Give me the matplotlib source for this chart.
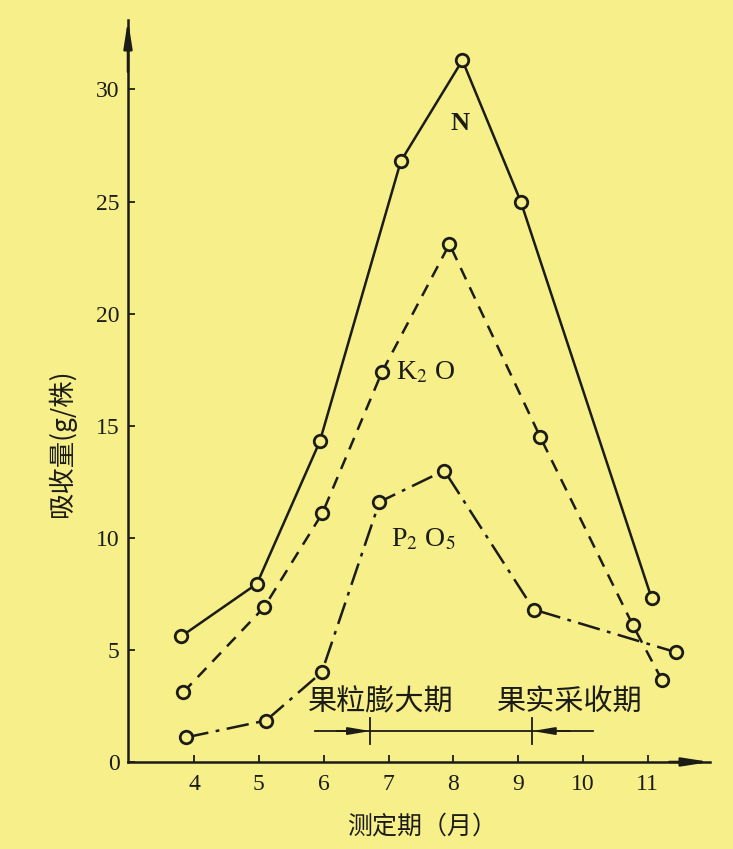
import matplotlib.pyplot as plt

plt.rcParams['font.family'] = ['Liberation Serif', 'Noto Sans CJK SC', 'DejaVu Sans']
plt.rcParams['mathtext.fontset'] = 'stix'

# months at which each nutrient was measured, and uptake (g per plant)
n_month = [3.8, 4.97, 5.94, 7.19, 8.14, 9.04, 11.06]
n_uptake = [5.6, 7.95, 14.3, 26.8, 31.3, 25.0, 7.3]

k_month = [3.83, 5.08, 5.98, 6.9, 7.94, 9.34, 10.77, 11.22]
k_uptake = [3.1, 6.9, 11.1, 17.4, 23.1, 14.5, 6.1, 3.65]

p_month = [3.88, 5.11, 5.97, 6.86, 7.86, 9.24, 11.43]
p_uptake = [1.1, 1.85, 4.0, 11.6, 13.0, 6.8, 4.9]

month_ticks = [4, 5, 6, 7, 8, 9, 10, 11]
uptake_ticks = [0, 5, 10, 15, 20, 25, 30]

# growth stage bar: start, stage marks, end
stage_line = [5.86, 10.15]
stage_marks = [6.72, 9.22]

bg = '#F6EF8A'
ink = '#1c1c16'

fig = plt.figure(figsize=(7.33, 8.49), dpi=100, facecolor=bg)
ax = fig.add_axes([0.1746, 0.1025, 0.794, 0.874], facecolor=bg)

marker = dict(marker='o', markersize=9, markerfacecolor=bg,
              markeredgecolor=ink, markeredgewidth=2.0, color=ink, lw=1.8)
ax.plot(n_month, n_uptake, linestyle='-', **marker)
ax.plot(k_month, k_uptake, linestyle=(0, (5, 3.5)), **marker)
ax.plot(p_month, p_uptake, linestyle=(0, (9, 3, 1.5, 3)), **marker)

ax.text(8.1, 28.5, 'N', fontsize=19, fontweight='bold', color=ink,
        ha='center', va='center')
ax.text(7.12, 17.35, r'K$_2$ O', fontsize=20, color=ink,
        ha='left', va='center')
ax.text(7.04, 9.9, r'P$_2$ O$_5$', fontsize=20, color=ink,
        ha='left', va='center')

# growth stages
ax.plot(stage_line, [1.38, 1.38], color=ink, lw=1.3)
for xm in stage_marks:
    ax.plot([xm, xm], [0.8, 1.95], color=ink, lw=1.3)
ax.annotate('', xy=(stage_marks[0], 1.38), xytext=(6.2, 1.38),
            arrowprops=dict(arrowstyle='-|>,head_length=1.3,head_width=0.22',
                            color=ink, lw=1.3, shrinkA=0, shrinkB=0))
ax.annotate('', xy=(stage_marks[1], 1.38), xytext=(9.8, 1.38),
            arrowprops=dict(arrowstyle='-|>,head_length=1.3,head_width=0.22',
                            color=ink, lw=1.3, shrinkA=0, shrinkB=0))
ax.text(6.88, 2.65, '果粒膨大期', fontsize=21, color=ink, ha='center', va='center',
        family=['Noto Sans CJK SC'])
ax.text(9.8, 2.65, '果实采收期', fontsize=21, color=ink, ha='center', va='center',
        family=['Noto Sans CJK SC'])

ax.set_xlim(2.98, 11.96)
ax.set_ylim(0, 33.1)
ax.set_xticks(month_ticks)
ax.set_yticks(uptake_ticks)
ax.tick_params(direction='in', length=5, width=1.3, colors=ink,
               labelsize=17)
ax.tick_params(axis='y', pad=6)
ax.tick_params(axis='x', pad=9)
for side in ['top', 'right']:
    ax.spines[side].set_visible(False)
for side in ['left', 'bottom']:
    ax.spines[side].set_color(ink)
    ax.spines[side].set_linewidth(1.8)

# axis arrows
ax.annotate('', xy=(0, 1.0), xytext=(0, 0.93), xycoords='axes fraction',
            arrowprops=dict(arrowstyle='-|>,head_length=1.6,head_width=0.25',
                            color=ink, lw=1.8, shrinkA=0, shrinkB=0))
ax.annotate('', xy=(1.0, 0), xytext=(0.93, 0), xycoords='axes fraction',
            arrowprops=dict(arrowstyle='-|>,head_length=1.6,head_width=0.25',
                            color=ink, lw=1.8, shrinkA=0, shrinkB=0))

ax.set_ylabel('吸收量(g/株)', fontsize=19, color=ink,
              family=['Noto Sans CJK SC', 'Liberation Serif'])
ax.yaxis.set_label_coords(-0.113, 0.43)
ax.set_xlabel('测定期（月）', fontsize=18, color=ink,
              family=['Noto Sans CJK SC'])
ax.xaxis.set_label_coords(0.506, -0.087)
ax.xaxis.label.set_va('center')
ax.yaxis.label.set_va('center')

fig.savefig('out.png', dpi=100, facecolor=bg)
